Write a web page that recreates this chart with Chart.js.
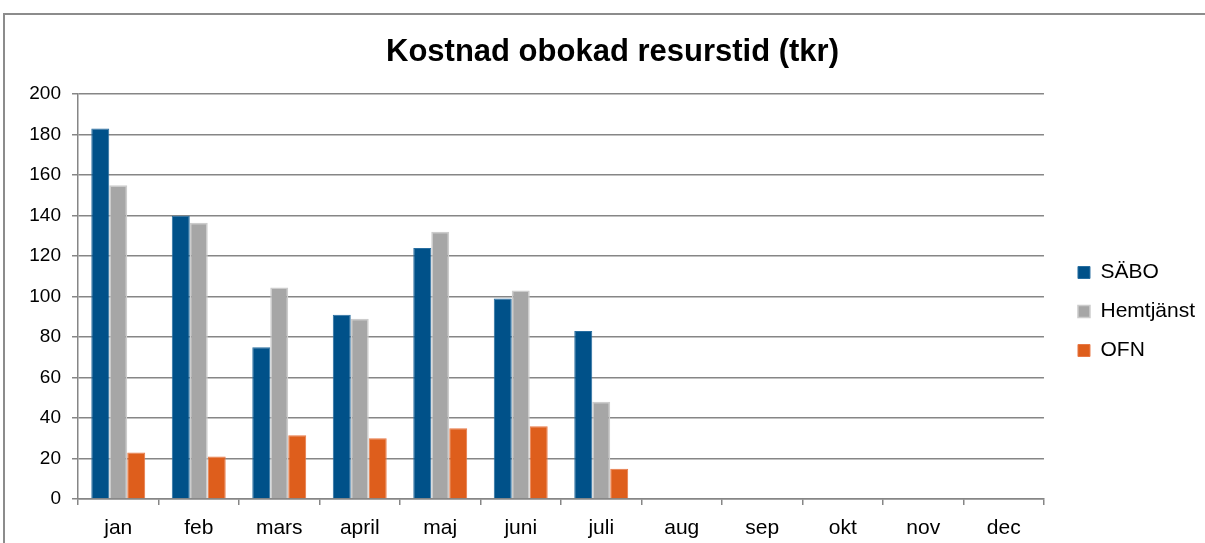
<!DOCTYPE html>
<html>
<head>
<meta charset="utf-8">
<script src="https://cdn.jsdelivr.net/npm/chart.js@4"></script>
<style>
  body { margin: 0; background: #fff; }
  #wrap { position: relative; width: 1205px; height: 543px; overflow: hidden; }
  #frame { position: absolute; left: 3px; top: 13px; width: 1300px; height: 600px;
           border-top: 2px solid #8c8c8c; border-left: 2px solid #8c8c8c; }
  canvas { position: absolute; left: 0; top: 0; }
</style>
</head>
<body>
<div id="wrap">
  <div id="frame"></div>
  <canvas id="kostnadChart" width="1205" height="543"></canvas>
</div>
<script>
    const manader = ['jan', 'feb', 'mars', 'april', 'maj', 'juni', 'juli', 'aug', 'sep', 'okt', 'nov', 'dec'];
    const sabo = [183, 140, 75, 91, 124, 99, 83, null, null, null, null, null];
    const hemtjanst = [155, 136.5, 104.5, 89, 132, 103, 48, null, null, null, null, null];
    const ofn = [23, 21, 31.5, 30, 35, 36, 15, null, null, null, null, null];

    const grå = 'rgb(134, 134, 134)';

    const ctx = document.getElementById('kostnadChart').getContext('2d');
    const kostnadChart = new Chart(ctx, {
        type: 'bar',
        data: {
            labels: manader,
            datasets: [{
                label: 'SÄBO',
                data: sabo,
                backgroundColor: 'rgb(0, 81, 137)',
                borderColor: 'rgb(40, 110, 160)',
                borderWidth: 1
            },
            {
                label: 'Hemtjänst',
                data: hemtjanst,
                backgroundColor: 'rgb(166, 166, 166)',
                borderColor: 'rgb(204, 204, 204)',
                borderWidth: 1.5
            },
            {
                label: 'OFN',
                data: ofn,
                backgroundColor: 'rgb(222, 94, 28)',
                borderColor: 'rgb(232, 120, 70)',
                borderWidth: 1
            }]
        },
        options: {
            responsive: false,
            animation: false,
            layout: {
                padding: { left: 20, right: 0, top: 0, bottom: 0 }
            },
            datasets: {
                bar: {
                    categoryPercentage: 0.67,
                    barPercentage: 1
                }
            },
            plugins: {
                title: {
                    display: true,
                    text: 'Kostnad obokad resurstid (tkr)',
                    color: '#000',
                    font: { family: 'Liberation Sans', size: 31, weight: 'bold' },
                    padding: { top: 34, bottom: 23 }
                },
                legend: {
                    position: 'right',
                    align: 'center',
                    title: {
                        display: true,
                        text: ' ',
                        font: { size: 10 },
                        padding: { top: 34, bottom: 34 }
                    },
                    labels: {
                        color: '#000',
                        font: { family: 'Liberation Sans', size: 21 },
                        boxWidth: 12,
                        boxHeight: 12,
                        padding: 18
                    }
                },
                tooltip: { enabled: false }
            },
            scales: {
                y: {
                    min: 0,
                    max: 200,
                    ticks: {
                        stepSize: 20,
                        color: '#000',
                        padding: 11,
                        font: { family: 'Liberation Sans', size: 19 }
                    },
                    grid: {
                        color: grå,
                        lineWidth: 1.5,
                        tickLength: 6
                    },
                    border: { color: grå, width: 1.5 },
                    afterFit: function(scale) { scale.width = 58; }
                },
                // tom axel till höger, bara för luft mellan diagram och förklaring
                luft: {
                    type: 'linear',
                    position: 'right',
                    display: true,
                    ticks: { display: false },
                    grid: { display: false },
                    border: { display: false },
                    afterFit: function(scale) { scale.width = 16; }
                },
                x: {
                    ticks: {
                        color: '#000',
                        padding: 11,
                        font: { family: 'Liberation Sans', size: 21 }
                    },
                    grid: {
                        color: grå,
                        lineWidth: 1.5,
                        drawOnChartArea: false,
                        tickLength: 6,
                        offset: true
                    },
                    border: { color: grå, width: 1.5 },
                    afterFit: function(scale) { scale.height = 44; }
                }
            }
        }
    });
</script>
</body>
</html>
